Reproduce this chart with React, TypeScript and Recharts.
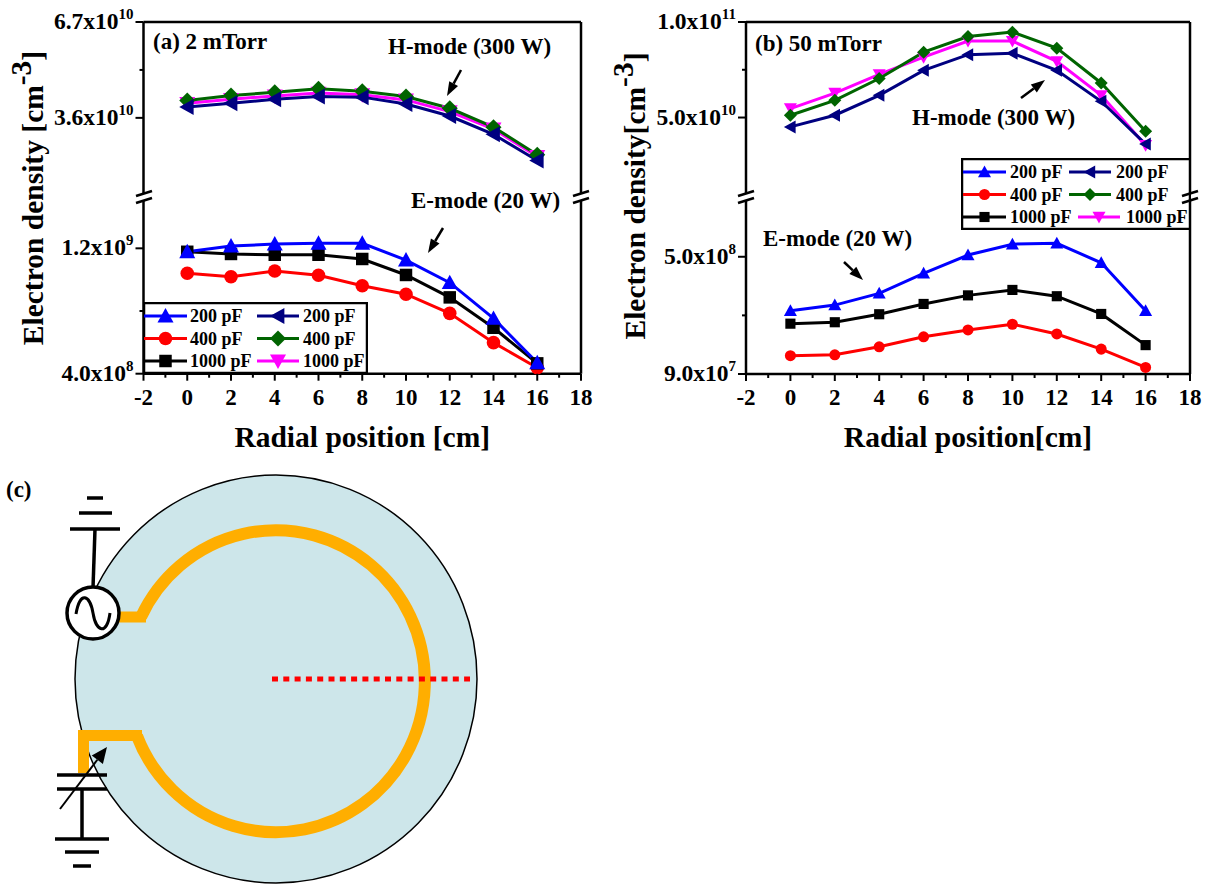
import React from "react";
import { LineChart, Line, XAxis, YAxis, Legend, ReferenceLine } from "recharts";

const SERIF = '"Liberation Serif", serif';
const W = 1207;
const CHART_H = 460;

const radial = [0, 2, 4, 6, 8, 10, 12, 14, 16];
const xTicks = [-2, -1, 0, 1, 2, 3, 4, 5, 6, 7, 8, 9, 10, 11, 12, 13, 14, 15, 16, 17, 18];

// panel (a) 2 mTorr
const aH200 = [3.95e10, 4.07e10, 4.2e10, 4.29e10, 4.27e10, 4.05e10, 3.66e10, 3.07e10, 2.22e10];
const aH400 = [4.16e10, 4.32e10, 4.43e10, 4.54e10, 4.46e10, 4.29e10, 3.91e10, 3.3e10, 2.41e10];
const aH1000 = [4.07e10, 4.2e10, 4.31e10, 4.4e10, 4.35e10, 4.18e10, 3.8e10, 3.24e10, 2.35e10];
const aE200 = [11.78e8, 12.15e8, 12.27e8, 12.32e8, 12.32e8, 11.25e8, 9.81e8, 7.53e8, 4.7e8];
const aE400 = [10.41e8, 10.19e8, 10.55e8, 10.28e8, 9.61e8, 9.07e8, 7.85e8, 5.98e8, 4.38e8];
const aE1000 = [11.78e8, 11.64e8, 11.59e8, 11.59e8, 11.32e8, 10.3e8, 8.87e8, 6.93e8, 4.66e8];

// panel (b) 50 mTorr
const bH200 = [4.51e10, 5.12e10, 6.16e10, 7.47e10, 8.29e10, 8.37e10, 7.47e10, 5.85e10, 3.61e10];
const bH400 = [5.12e10, 5.9e10, 7.04e10, 8.42e10, 9.24e10, 9.47e10, 8.63e10, 6.81e10, 4.28e10];
const bH1000 = [5.47e10, 6.28e10, 7.26e10, 8.16e10, 9.0e10, 9.0e10, 7.94e10, 6.16e10, 3.55e10];
const bE200 = [3.11e8, 3.31e8, 3.72e8, 4.42e8, 5.06e8, 5.44e8, 5.47e8, 4.79e8, 3.11e8];
const bE400 = [1.54e8, 1.57e8, 1.85e8, 2.2e8, 2.44e8, 2.64e8, 2.3e8, 1.77e8, 1.13e8];
const bE1000 = [2.66e8, 2.71e8, 2.99e8, 3.35e8, 3.65e8, 3.84e8, 3.62e8, 3.0e8, 1.91e8];

const aUpperTicks = [3.6e10, 5.15e10, 6.7e10];
const aLowerTicks = [4e8, 8e8, 1.2e9];
const bUpperTicks = [5e10, 7.5e10, 1e11];
const bLowerTicks = [9e7, 2.95e8, 5e8];

const yLabels: Record<number, [string, string]> = {
	6.7e10: ["6.7x10", "10"],
	3.6e10: ["3.6x10", "10"],
	1.2e9: ["1.2x10", "9"],
	4e8: ["4.0x10", "8"],
	1e11: ["1.0x10", "11"],
	5e10: ["5.0x10", "10"],
	5e8: ["5.0x10", "8"],
	9e7: ["9.0x10", "7"],
};

const legendRows = ["200 pF", "400 pF", "1000 pF"];

type Shape = "up" | "circle" | "square" | "left" | "diamond" | "down";

const Marker = ({ cx, cy, shape, color, s }: { cx: number; cy: number; shape: Shape; color: string; s: number }) => {
	if (shape === "circle") return <circle cx={cx} cy={cy} r={s * 0.85} fill={color} />;
	if (shape === "square") return <rect x={cx - s * 0.78} y={cy - s * 0.78} width={s * 1.56} height={s * 1.56} fill={color} />;
	const pts: Record<string, number[][]> = {
		up: [[0, -s], [s, s * 0.8], [-s, s * 0.8]],
		down: [[0, s], [s, -s * 0.8], [-s, -s * 0.8]],
		left: [[-s, 0], [s * 0.8, -s], [s * 0.8, s]],
		diamond: [[0, -s], [s, 0], [0, s], [-s, 0]],
	};
	return <polygon points={pts[shape].map(([x, y]) => `${cx + x},${cy + y}`).join(" ")} fill={color} />;
};

const YTick = (p: any) => {
	const label = yLabels[p.payload.value];
	return (
		<g>
			<line x1={p.x} x2={p.x - (label ? 8 : 4)} y1={p.y} y2={p.y} stroke="#000" strokeWidth={2} />
			{label && (
				<text x={p.x - 10} y={p.y + 7} textAnchor="end" fontFamily={SERIF} fontWeight="bold" fontSize={23.5}>
					{label[0]}
					<tspan dy={-10} fontSize={15}>{label[1]}</tspan>
				</text>
			)}
		</g>
	);
};

const XTick = (p: any) => {
	const major = p.payload.value % 2 === 0;
	return (
		<g>
			<line x1={p.x} x2={p.x} y1={p.y} y2={p.y + (major ? 7 : 4)} stroke="#000" strokeWidth={2} />
			{major && (
				<text x={p.x} y={p.y + 31} textAnchor="middle" fontFamily={SERIF} fontWeight="bold" fontSize={23}>
					{p.payload.value}
				</text>
			)}
		</g>
	);
};

type Series = { key: string; values: number[]; color: string; shape: Shape };

const LegendBox = ({ w, h, s, col1, col2, col2Last }: { w: number; h: number; s: number; col1: number[]; col2: number[]; col2Last: number[] }) => {
	const rowY = [14, 36.5, 59];
	const left: [string, Shape][] = [["#0000ff", "up"], ["#ff0000", "circle"], ["#000000", "square"]];
	const right: [string, Shape][] = [["#000080", "left"], ["#006400", "diamond"], ["#ff00ff", "down"]];
	const drawEntry = (c: string, shape: Shape, y: number, spec: number[], label: string) => (
		<g key={label + spec[0]}>
			<line x1={spec[0]} x2={spec[1]} y1={y} y2={y} stroke={c} strokeWidth={3} />
			<Marker cx={(spec[0] + spec[1]) / 2} cy={y} shape={shape} color={c} s={s} />
			<text x={spec[2]} y={y + 6} fontFamily={SERIF} fontWeight="bold" fontSize={18}>{label}</text>
		</g>
	);
	return (
		<svg width={w} height={h} style={{ display: "block" }}>
			<rect x={1} y={1} width={w - 2} height={h - 2} fill="#fff" stroke="#000" strokeWidth={2.5} />
			{legendRows.map((label, i) => drawEntry(left[i][0], left[i][1], rowY[i], col1, label))}
			{legendRows.map((label, i) => drawEntry(right[i][0], right[i][1], rowY[i], i === 2 ? col2Last : col2, label))}
		</svg>
	);
};

const rows = (series: Series[]) =>
	radial.map((r, i) => {
		const row: Record<string, number> = { r };
		series.forEach((s) => {
			row[s.key] = s.values[i];
		});
		return row;
	});

const Band = ({ left, right, top, bottom, domain, ticks, series, size, isLower, title, legend }: any) => (
	<div style={{ position: "absolute", left: 0, top: 0 }}>
		<LineChart
			width={W}
			height={CHART_H}
			data={rows(series)}
			margin={{ left: 0, top, right: W - right, bottom: isLower ? 0 : CHART_H - bottom }}
		>
			<XAxis
				dataKey="r"
				type="number"
				domain={[-2, 18]}
				ticks={xTicks}
				interval={0}
				hide={!isLower}
				height={isLower ? CHART_H - bottom : 0}
				tick={XTick}
				tickSize={0}
				tickMargin={0}
				tickLine={false}
				axisLine={{ stroke: "#000", strokeWidth: 2.5 }}
				label={
					isLower
						? { value: title, position: "insideBottom", offset: 13, style: { fontFamily: SERIF, fontWeight: "bold", fontSize: 29.5, fill: "#000" } }
						: undefined
				}
			/>
			<YAxis
				type="number"
				domain={domain}
				ticks={ticks}
				interval={0}
				width={left}
				tick={YTick}
				tickSize={0}
				tickMargin={0}
				tickLine={false}
				axisLine={{ stroke: "#000", strokeWidth: 2.5 }}
			/>
			{/* rest of the frame */}
			<ReferenceLine x={18} stroke="#000" strokeWidth={2.5} />
			{!isLower && <ReferenceLine y={domain[1]} stroke="#000" strokeWidth={2.5} />}
			{series.map((s: Series) => (
				<Line
					key={s.key}
					dataKey={s.key}
					stroke={s.color}
					strokeWidth={3}
					isAnimationActive={false}
					dot={(p: any) => <Marker key={p.index} cx={p.cx} cy={p.cy} shape={s.shape} color={s.color} s={size} />}
				/>
			))}
			{legend && (
				<Legend
					layout="vertical"
					align="center"
					verticalAlign="middle"
					wrapperStyle={{ left: legend.x, top: legend.y, width: legend.w, height: legend.h }}
					content={() => <LegendBox {...legend} />}
				/>
			)}
		</LineChart>
	</div>
);

const BreakMarks = ({ x }: { x: number }) => (
	<g stroke="#000" strokeWidth={2.5}>
		<line x1={x - 8} x2={x + 8} y1={196} y2={191} />
		<line x1={x - 8} x2={x + 8} y1={203} y2={198} />
	</g>
);

const Arrow = ({ x1, y1, x2, y2, head = 14, width = 5, sw = 2.5 }: any) => {
	const len = Math.hypot(x2 - x1, y2 - y1);
	const ux = (x2 - x1) / len;
	const uy = (y2 - y1) / len;
	const bx = x2 - ux * head;
	const by = y2 - uy * head;
	return (
		<g>
			<line x1={x1} y1={y1} x2={bx} y2={by} stroke="#000" strokeWidth={sw} />
			<polygon points={`${x2},${y2} ${bx - uy * width},${by + ux * width} ${bx + uy * width},${by - ux * width}`} fill="#000" />
		</g>
	);
};

const AnnotText = ({ x, y, size = 23, children }: any) => (
	<text x={x} y={y} fontFamily={SERIF} fontWeight="bold" fontSize={size}>{children}</text>
);

const YTitle = ({ x, y, text }: { x: number; y: number; text: string }) => (
	<text x={x} y={y} transform={`rotate(-90 ${x} ${y})`} textAnchor="middle" fontFamily={SERIF} fontWeight="bold" fontSize={29.5}>
		{text}
		<tspan dy={-12}>-3</tspan>
		<tspan dy={12}>]</tspan>
	</text>
);

const Overlay = () => (
	<svg width={W} height={885} style={{ position: "absolute", left: 0, top: 0, pointerEvents: "none" }}>
		<BreakMarks x={144} />
		<BreakMarks x={581} />
		<BreakMarks x={746} />
		<BreakMarks x={1190} />

		<YTitle x={43} y={198} text="Electron density [cm" />
		<YTitle x={645} y={196} text="Electron density[cm" />

		<AnnotText x={153} y={49}>(a) 2 mTorr</AnnotText>
		<AnnotText x={388} y={54}>H-mode (300 W)</AnnotText>
		<AnnotText x={411} y={208}>E-mode (20 W)</AnnotText>
		<Arrow x1={461} y1={70} x2={447} y2={96} />
		<Arrow x1={443} y1={228} x2={428} y2={253} />

		<AnnotText x={755} y={51}>(b) 50 mTorr</AnnotText>
		<AnnotText x={912} y={125}>H-mode (300 W)</AnnotText>
		<AnnotText x={763} y={246}>E-mode (20 W)</AnnotText>
		<Arrow x1={1021} y1={98} x2={1045} y2={80} />
		<Arrow x1={844} y1={262} x2={863} y2={280} />

		{/* (c) antenna schematic */}
		<AnnotText x={6} y={497}>(c)</AnnotText>
		<ellipse cx={276} cy={679} rx={201} ry={204} fill="#cde6ea" stroke="#000" strokeWidth={1.5} />
		<path d="M 141 617 A 149 151 0 1 1 137 736" fill="none" stroke="#ffae00" strokeWidth={12} />
		<path d="M 118 617 H 146" fill="none" stroke="#ffae00" strokeWidth={11} />
		<path d="M 83.5 773 V 735.5 H 142" fill="none" stroke="#ffae00" strokeWidth={11} />
		<line x1={272} x2={470} y1={679} y2={679} stroke="#ff0000" strokeWidth={5} strokeDasharray="6 5.3" />

		<g stroke="#000" strokeWidth={3.5} fill="none">
			<line x1={95} y1={529} x2={93} y2={588} />
			<line x1={70} x2={120} y1={529} y2={529} />
			<line x1={79} x2={112} y1={513} y2={513} />
			<line x1={87} x2={103} y1={498} y2={498} />
			<circle cx={93} cy={613} r={26} fill="#fff" />
			<path d="M 76 614 C 80 590 90 595 93 613 C 96 632 107 636 110 613" strokeWidth={3} />
			<line x1={57} x2={107} y1={775} y2={775} />
			<line x1={57} x2={107} y1={789} y2={789} />
			<line x1={82} x2={82} y1={789} y2={839} />
			<line x1={55} x2={109} y1={839} y2={839} />
			<line x1={65} x2={99} y1={852} y2={852} />
			<line x1={73} x2={91} y1={866} y2={866} />
		</g>
		<Arrow x1={60} y1={809} x2={107} y2={747} head={16} width={7} sw={2} />
	</svg>
);

const App = () => (
	<div style={{ position: "absolute", left: 0, top: 0, width: W, height: 885, background: "#fff" }}>
		<Band
			left={143.5}
			right={581}
			top={22}
			bottom={193}
			domain={[1.17e10, 6.7e10]}
			ticks={aUpperTicks}
			size={8}
			series={[
				{ key: "h1000", values: aH1000, color: "#ff00ff", shape: "down" },
				{ key: "h400", values: aH400, color: "#006400", shape: "diamond" },
				{ key: "h200", values: aH200, color: "#000080", shape: "left" },
			]}
		/>
		<Band
			left={143.5}
			right={581}
			top={201}
			bottom={373.7}
			domain={[4e8, 1.502e9]}
			ticks={aLowerTicks}
			size={8}
			isLower
			title="Radial position [cm]"
			series={[
				{ key: "e400", values: aE400, color: "#ff0000", shape: "circle" },
				{ key: "e1000", values: aE1000, color: "#000000", shape: "square" },
				{ key: "e200", values: aE200, color: "#0000ff", shape: "up" },
			]}
			legend={{ x: 143, y: 302, w: 225, h: 72, s: 8, col1: [1, 44, 47], col2: [114, 156, 160], col2Last: [114, 156, 160] }}
		/>
		<Band
			left={746}
			right={1190}
			top={22}
			bottom={193}
			domain={[1.05e10, 1e11]}
			ticks={bUpperTicks}
			size={6.5}
			series={[
				{ key: "h1000", values: bH1000, color: "#ff00ff", shape: "down" },
				{ key: "h400", values: bH400, color: "#006400", shape: "diamond" },
				{ key: "h200", values: bH200, color: "#000080", shape: "left" },
			]}
		/>
		<Band
			left={746}
			right={1190}
			top={201}
			bottom={374}
			domain={[9e7, 6.95e8]}
			ticks={bLowerTicks}
			size={6.5}
			isLower
			title="Radial position[cm]"
			series={[
				{ key: "e400", values: bE400, color: "#ff0000", shape: "circle" },
				{ key: "e1000", values: bE1000, color: "#000000", shape: "square" },
				{ key: "e200", values: bE200, color: "#0000ff", shape: "up" },
			]}
			legend={{ x: 961, y: 158, w: 230, h: 72, s: 6.5, col1: [2, 45, 49], col2: [108, 150, 155], col2Last: [117, 159, 165] }}
		/>
		<Overlay />
	</div>
);

export default App;
